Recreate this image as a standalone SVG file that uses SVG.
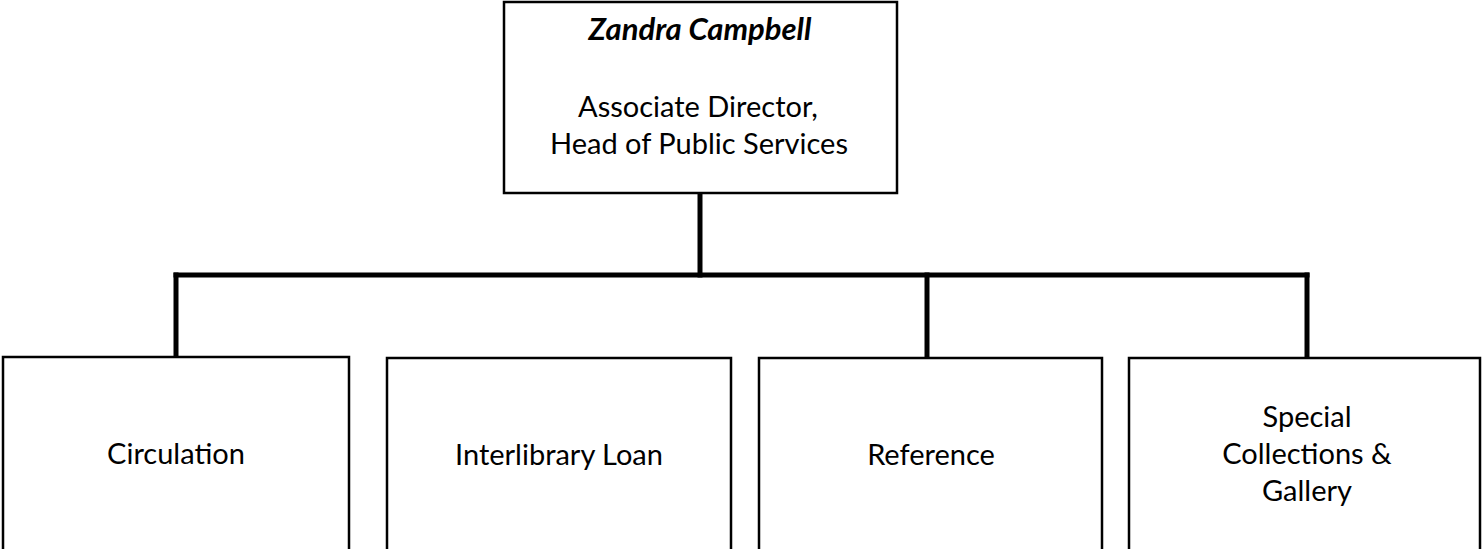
<svg xmlns="http://www.w3.org/2000/svg" width="1482" height="549" viewBox="0 0 1482 549">
<style>
.box{fill:#fff;stroke:#000;stroke-width:2.5}
.t{font-family:Lato,"Open Sans","Liberation Sans",sans-serif;font-size:29px;fill:#000;text-anchor:middle}
.name{font-weight:bold;font-style:italic;font-size:31px}
.conn{fill:none;stroke:#000;stroke-width:5;stroke-linecap:square}
</style>
<rect width="1482" height="549" fill="#fff"/>
<g id="connectors">
<path class="conn" d="M700 195 V275"/>
<path class="conn" d="M176 275 H1307"/>
<path class="conn" d="M176 275 V356"/>
<path class="conn" d="M927 275 V356"/>
<path class="conn" d="M1307 275 V356"/>
</g>
<g id="zandra">
<rect class="box" x="504" y="2" width="393" height="191"/>
<text class="t name" x="700" y="40">Zandra Campbell</text>
<text class="t" x="698" y="117">Associate Director,</text>
<text class="t" x="699" y="154">Head of Public Services</text>
</g>
<g id="circulation">
<rect class="box" x="3" y="357" width="346" height="210"/>
<text class="t" x="176" y="464">Circulation</text>
</g>
<g id="ill">
<rect class="box" x="387" y="358" width="344" height="210"/>
<text class="t" x="559" y="465">Interlibrary Loan</text>
</g>
<g id="reference">
<rect class="box" x="759" y="358" width="343" height="210"/>
<text class="t" x="931" y="465">Reference</text>
</g>
<g id="special">
<rect class="box" x="1129" y="358" width="351" height="210"/>
<text class="t" x="1307" y="427">Special</text>
<text class="t" x="1307" y="464">Collections &amp;</text>
<text class="t" x="1307" y="501">Gallery</text>
</g>
</svg>
